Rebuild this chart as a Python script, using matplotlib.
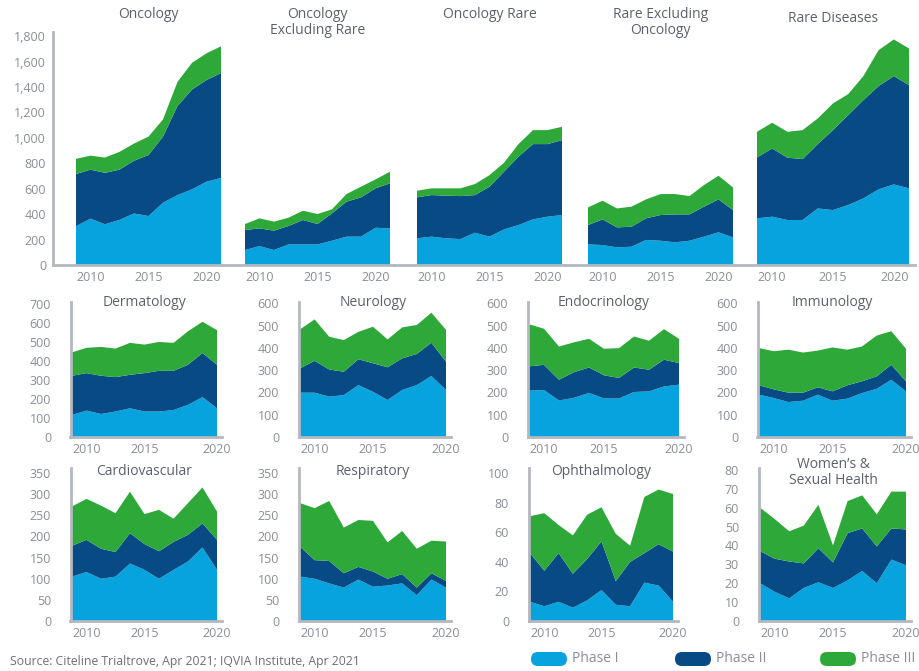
import matplotlib
matplotlib.use("Agg")
import matplotlib.pyplot as plt
from matplotlib.patches import FancyBboxPatch
from matplotlib.ticker import FuncFormatter, MultipleLocator

plt.rcParams["font.family"] = ["Open Sans", "DejaVu Sans"]

# ==========================================
# Data: trials started per phase, 2010-2020
# ==========================================

years = list(range(2010, 2021))
phase_names = ["Phase I", "Phase II", "Phase III"]
phase_colors = ["#06a3df", "#074a84", "#2fa83a"]

onc_p1 = [305, 365, 320, 355, 405, 385, 490, 550, 595, 655, 685]
onc_p2 = [410, 385, 405, 395, 415, 480, 520, 700, 785, 800, 825]
onc_p3 = [120, 110, 120, 140, 135, 145, 135, 190, 210, 210, 210]

onc_ex_p1 = [118, 149, 118, 162, 162, 162, 191, 223, 223, 293, 288]
onc_ex_p2 = [157, 139, 152, 145, 192, 160, 215, 275, 309, 310, 354]
onc_ex_p3 = [47, 79, 71, 65, 73, 79, 32, 60, 84, 70, 92]

onc_rare_p1 = [210, 223, 210, 204, 254, 223, 280, 314, 359, 380, 393]
onc_rare_p2 = [322, 327, 335, 338, 296, 393, 454, 538, 592, 571, 589]
onc_rare_p3 = [52, 53, 58, 61, 87, 91, 70, 99, 110, 110, 105]

rare_ex_p1 = [162, 157, 139, 144, 197, 191, 178, 191, 223, 257, 217]
rare_ex_p2 = [152, 202, 157, 157, 170, 202, 220, 207, 236, 259, 215]
rare_ex_p3 = [139, 147, 149, 158, 149, 165, 160, 144, 170, 186, 178]

rare_p1 = [367, 380, 354, 354, 445, 432, 472, 524, 595, 634, 603]
rare_p2 = [479, 537, 490, 479, 506, 629, 707, 773, 812, 852, 812]
rare_p3 = [202, 202, 204, 228, 202, 210, 165, 189, 283, 288, 288]

derm_p1 = [116, 139, 121, 134, 151, 134, 134, 142, 169, 210, 151]
derm_p2 = [206, 197, 201, 181, 176, 202, 214, 206, 211, 232, 229]
derm_p3 = [123, 133, 152, 150, 168, 150, 152, 147, 176, 164, 182]

neuro_p1 = [199, 199, 181, 188, 233, 203, 166, 211, 233, 274, 211]
neuro_p2 = [109, 143, 122, 105, 116, 128, 147, 142, 140, 149, 127]
neuro_p3 = [175, 186, 147, 142, 123, 164, 125, 139, 130, 135, 143]

endo_p1 = [208, 211, 164, 176, 198, 173, 173, 202, 205, 227, 235]
endo_p2 = [109, 113, 93, 115, 114, 104, 92, 110, 97, 120, 97]
endo_p3 = [189, 162, 149, 134, 129, 119, 134, 139, 130, 137, 109]

immuno_p1 = [190, 175, 157, 163, 190, 163, 172, 197, 216, 257, 205]
immuno_p2 = [42, 39, 42, 36, 33, 42, 60, 53, 56, 67, 45]
immuno_p3 = [167, 171, 193, 180, 165, 197, 160, 156, 183, 151, 146]

cardio_p1 = [105, 116, 100, 105, 136, 121, 100, 121, 141, 174, 121]
cardio_p2 = [73, 76, 71, 58, 72, 61, 65, 66, 63, 57, 71]
cardio_p3 = [93, 97, 102, 92, 98, 71, 98, 55, 75, 85, 67]

resp_p1 = [105, 100, 89, 79, 98, 81, 84, 89, 61, 98, 79]
resp_p2 = [71, 44, 53, 34, 30, 36, 16, 22, 18, 15, 16]
resp_p3 = [103, 123, 142, 108, 111, 120, 86, 102, 92, 77, 93]

ophth_p1 = [13, 10, 13, 9, 14, 21, 11, 10, 26, 24, 13]
ophth_p2 = [33, 24, 33, 23, 28, 33, 16, 30, 20, 28, 34]
ophth_p3 = [25, 39, 19, 26, 30, 23, 32, 11, 38, 37, 39]

womens_p1 = [20, 15.5, 12, 17.5, 20.5, 17.5, 21.5, 26.5, 20, 32.5, 29.5]
womens_p2 = [17, 17.5, 19.5, 13, 18, 13.5, 25, 22.5, 19.5, 16.5, 19]
womens_p3 = [23, 21, 16, 20, 23, 9, 17, 17.5, 17, 19.5, 20]

# ==========================================
# Layout (pixel boxes on a 919 x 671 canvas)
# ==========================================

W, H = 919, 671
AXIS_GREY = "#b4b8c0"
LABEL_GREY = "#8a8e96"
TITLE_GREY = "#5d616b"

fig = plt.figure(figsize=(W / 100, H / 100), dpi=100)


def add_panel(series, box, span, ylim, step, title, title_y,
              show_y=True, ypad=14, edge_labels=False, thousands=False):
    left, right, top, bottom = box
    start, end = span
    ax = fig.add_axes([left / W, 1 - bottom / H,
                       (right - left) / W, (bottom - top) / H])
    ax.stackplot(years, *series, colors=phase_colors, linewidth=0)

    ppy = (end - start) / (years[-1] - years[0])
    ax.set_xlim(years[0] - (start - left) / ppy,
                years[-1] + (right - end) / ppy)
    ax.set_ylim(0, ylim)
    ax.set_facecolor("none")

    for s in ["top", "right"]:
        ax.spines[s].set_visible(False)
    ax.spines["bottom"].set_color(AXIS_GREY)
    ax.spines["bottom"].set_linewidth(2)
    ax.spines["left"].set_color(AXIS_GREY)
    ax.spines["left"].set_linewidth(2)

    ax.set_xticks([2010, 2015, 2020])
    ax.set_xticklabels(["2010", "2015", "2020"])
    lbls = ax.get_xticklabels()
    lbls[0].set_horizontalalignment("left")
    if edge_labels:
        lbls[-1].set_horizontalalignment("right")

    ax.yaxis.set_major_locator(MultipleLocator(step))
    if thousands:
        ax.yaxis.set_major_formatter(FuncFormatter(lambda v, p: f"{v:,.0f}"))
    ax.tick_params(length=0, labelsize=9, labelcolor=LABEL_GREY)
    ax.tick_params(axis="x", pad=4)
    ax.tick_params(axis="y", pad=ypad)
    if not show_y:
        ax.spines["left"].set_visible(False)
        ax.set_yticks([])

    fig.text((start + end) / 2 / W, 1 - title_y / H, title,
             ha="center", va="top", fontsize=10, color=TITLE_GREY,
             linespacing=1.1)
    return ax


# Top row: one shared value axis across five panels
top_series = [
    ("Oncology", [onc_p1, onc_p2, onc_p3], 7),
    ("Oncology\nExcluding Rare", [onc_ex_p1, onc_ex_p2, onc_ex_p3], 7),
    ("Oncology Rare", [onc_rare_p1, onc_rare_p2, onc_rare_p3], 7),
    ("Rare Excluding\nOncology", [rare_ex_p1, rare_ex_p2, rare_ex_p3], 7),
    ("Rare Diseases", [rare_p1, rare_p2, rare_p3], 11),
]
top_starts = [76, 245, 417, 588, 757]
top_ends = [221, 390, 562, 733, 909]
top_lefts = [53, 222, 394, 565, 734]
top_rights = [222, 394, 565, 734, 915]

for i, (title, series, ty) in enumerate(top_series):
    add_panel(series, (top_lefts[i], top_rights[i], 31.7, 265),
              (top_starts[i], top_ends[i]), 1835, 200, title, ty,
              show_y=(i == 0), ypad=5, edge_labels=True, thousands=True)

# Middle row
mid_series = [
    ("Dermatology", [derm_p1, derm_p2, derm_p3], 710, 100),
    ("Neurology", [neuro_p1, neuro_p2, neuro_p3], 606, 100),
    ("Endocrinology", [endo_p1, endo_p2, endo_p3], 606, 100),
    ("Immunology", [immuno_p1, immuno_p2, immuno_p3], 606, 100),
]
mid_starts = [72, 300, 529, 759]
mid_ends = [217, 446, 679, 906]
for i, (title, series, ymax, step) in enumerate(mid_series):
    add_panel(series, (mid_starts[i] - 1.5, mid_ends[i] + 5, 302, 437),
              (mid_starts[i], mid_ends[i]), ymax, step, title, 295)

# Bottom row
bot_series = [
    ("Cardiovascular", [cardio_p1, cardio_p2, cardio_p3], 362, 50, 464),
    ("Respiratory", [resp_p1, resp_p2, resp_p3], 362, 50, 464),
    ("Ophthalmology", [ophth_p1, ophth_p2, ophth_p3], 103.6, 20, 464),
    ("Women\u2019s &\nSexual Health", [womens_p1, womens_p2, womens_p3],
     81, 10, 457),
]
bot_starts = [72, 300, 530, 760]
bot_ends = [217, 446, 673, 906]
for i, (title, series, ymax, step, ty) in enumerate(bot_series):
    add_panel(series, (bot_starts[i] - 1.5, bot_ends[i] + 5, 468, 621),
              (bot_starts[i], bot_ends[i]), ymax, step, title, ty)

# ==========================================
# Legend and source note
# ==========================================

legend_x = [531, 675, 820]
for x, name, color in zip(legend_x, phase_names, phase_colors):
    patch = FancyBboxPatch((x / 100, (H - 666) / 100), 0.36, 0.14,
                           boxstyle="round,pad=0,rounding_size=0.07",
                           transform=fig.dpi_scale_trans,
                           facecolor=color, edgecolor="none")
    fig.patches.append(patch)
    fig.text((x + 41) / W, 1 - 659 / H, name, ha="left", va="center",
             fontsize=10, color=LABEL_GREY)

fig.text(10 / W, 1 - 661 / H,
         "Source: Citeline Trialtrove, Apr 2021; IQVIA Institute, Apr 2021",
         ha="left", va="center", fontsize=8.8, color="#6b6f78")

fig.savefig("out.png", dpi=100)
